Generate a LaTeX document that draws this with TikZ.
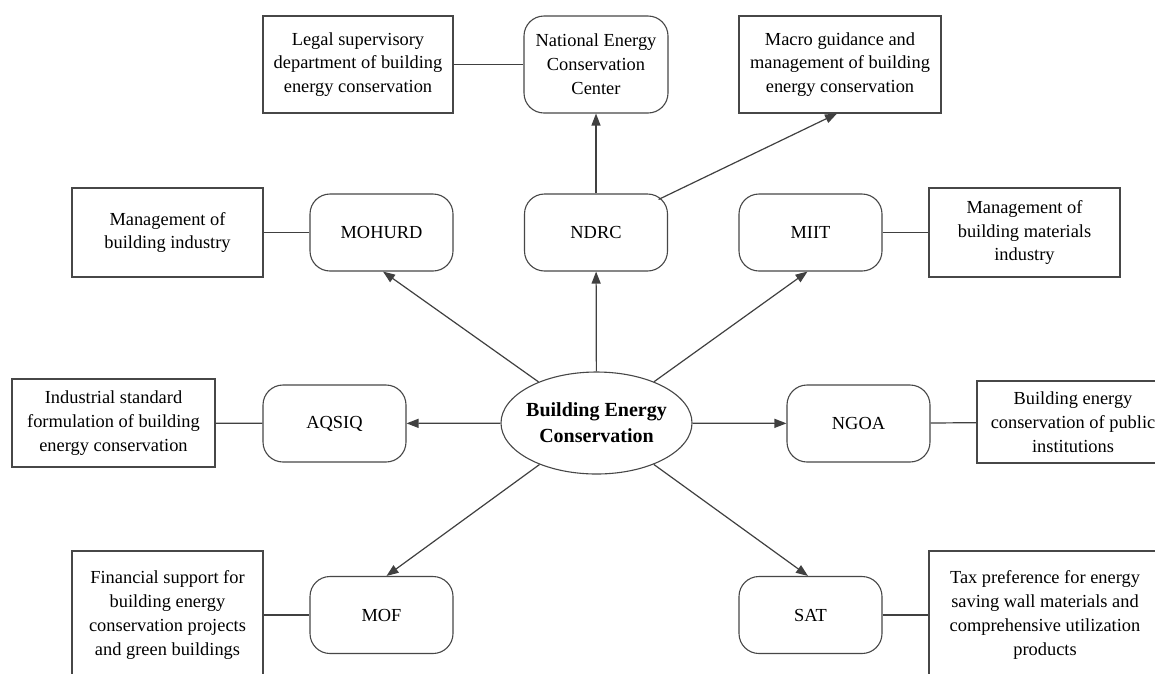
\documentclass[tikz,border=0pt]{standalone}
\usepackage{fontspec}
\setmainfont{Liberation Serif}
\usetikzlibrary{shapes.geometric,arrows.meta}
\begin{document}
\begin{tikzpicture}[x=1pt,y=-1pt,
  line/.style={draw=black!75,line width=1.2pt},
  arr/.style={line,-{Triangle[length=12pt,width=9pt]}},
  org/.style={draw=black!72,line width=1.1pt,rounded corners=20pt,minimum width=143pt,minimum height=77pt,align=center,font=\fontsize{18.4}{23.8}\selectfont,inner sep=0pt},
  desc/.style 2 args={draw=black!72,line width=1.1pt,align=center,font=\fontsize{18.4}{23.8}\selectfont,inner sep=0pt,minimum width=#1pt,minimum height=#2pt}]
\useasboundingbox (0,0) rectangle (1155,673);
\fill[white] (0,0) rectangle (1155,673);
\clip (0,0) rectangle (1155,673);

\node[ellipse,draw=black!72,line width=1.1pt,minimum width=191pt,minimum height=102pt,inner sep=0pt,align=center,font=\bfseries\fontsize{20}{26}\selectfont] (E) at (596.5,423) {\makebox[0pt]{Building Energy}\\\makebox[0pt]{Conservation}};

\node[org] (NDRC) at (596,232.5) {NDRC};
\node[org] (MOHURD) at (381.5,232.5) {MOHURD};
\node[org] (MIIT) at (810.5,232.5) {MIIT};
\node[org] (AQSIQ) at (334.5,423.5) {AQSIQ};
\node[org] (NGOA) at (858.5,423.5) {NGOA};
\node[org] (MOF) at (381.5,615) {MOF};
\node[org] (SAT) at (810.5,615) {SAT};
\node[org,minimum width=144pt,minimum height=97pt] (NECC) at (596,64.5) {National Energy\\Conservation\\Center};

\node[desc={190}{97}] (legal) at (358,64.5) {Legal supervisory\\department of building\\energy conservation};
\node[desc={202}{97}] (macro) at (840,64.5) {Macro guidance and\\management of building\\energy conservation};
\node[desc={191}{89}] (bind) at (167.5,232.5) {Management of\\building industry};
\node[desc={191}{89}] (bmat) at (1024.5,232.5) {Management of\\building materials\\industry};
\node[desc={203}{88}] (std) at (113.5,423) {Industrial standard\\formulation of building\\energy conservation};
\node[desc={192}{82}] (pub) at (1073,422) {Building energy\\conservation of public\\institutions};
\node[desc={191}{128}] (fin) at (167.5,615) {Financial support for\\building energy\\conservation projects\\and green buildings};
\node[desc={232}{128}] (tax) at (1045,615) {Tax preference for energy\\saving wall materials and\\comprehensive utilization\\products};

\draw[arr] (E) -- (NDRC);
\draw[arr] (NDRC) -- (NECC);
\draw[arr] ([xshift=-9.5pt,yshift=-6pt]NDRC.north east) -- ([xshift=-3pt]macro.south);
\draw[arr] (E) -- ([xshift=1.5pt]MOHURD.south);
\draw[arr] (E) -- ([xshift=-3pt]MIIT.south);
\draw[arr] (E) -- (AQSIQ);
\draw[arr] (E) -- (NGOA);
\draw[arr] (E) -- ([xshift=5pt]MOF.north);
\draw[arr] (E) -- ([xshift=-2.5pt]SAT.north);

\draw[line] (legal) -- (NECC);
\draw[line] (bind) -- (MOHURD);
\draw[line] (MIIT) -- (bmat);
\draw[line] (std) -- (AQSIQ);
\draw[line] (NGOA) -- (pub);
\draw[line] (fin) -- (MOF);
\draw[line] (SAT) -- (tax);
\end{tikzpicture}
\end{document}
